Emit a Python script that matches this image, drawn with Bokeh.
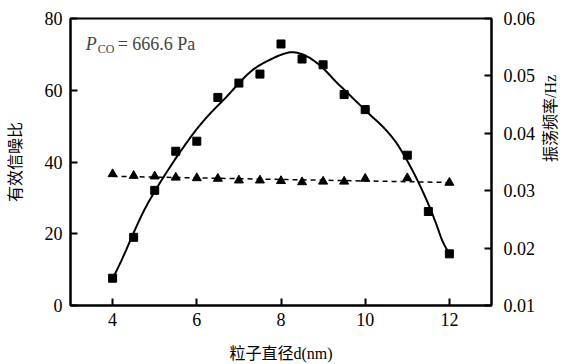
import numpy as np
from bokeh.plotting import figure
from bokeh.models import Range1d, LinearAxis, Label, FixedTicker
from bokeh.embed import file_html
from bokeh.resources import INLINE

# Effective signal-to-noise ratio vs particle diameter (left axis)
diameter_nm = [4, 4.5, 5, 5.5, 6, 6.5, 7, 7.5, 8, 8.5, 9, 9.5, 10, 11, 11.5, 12]
snr = [7.6, 19.0, 32.1, 43.0, 45.8, 58.0, 62.0, 64.5, 72.9, 68.7, 67.1, 58.8, 54.6, 41.9, 26.2, 14.4]

# Oscillation frequency vs particle diameter (right axis, Hz)
freq_diameter_nm = [4, 4.5, 5, 5.5, 6, 6.5, 7, 7.5, 8, 8.5, 9, 9.5, 10, 11, 12]
freq_hz = [0.0329, 0.0326, 0.0325, 0.0323, 0.0322, 0.0321, 0.0318, 0.0318,
           0.0317, 0.0315, 0.0316, 0.0316, 0.0321, 0.0322, 0.0314]

x_ticks = [4, 6, 8, 10, 12]
left_ticks = [0, 20, 40, 60, 80]
right_ticks = [0.01, 0.02, 0.03, 0.04, 0.05, 0.06]

SERIF = "Liberation Serif"
MIXED = "Liberation Serif, Noto Sans CJK SC"


def loess(x, y, grid, span=1.9, degree=2):
    """Local weighted polynomial smoothing with a tricube kernel."""
    x = np.asarray(x, float)
    y = np.asarray(y, float)
    out = []
    for g in grid:
        d = np.abs(x - g) / span
        w = np.clip(1 - d ** 3, 0, None) ** 3
        coef = np.polyfit(x - g, y, degree, w=np.sqrt(w))
        out.append(coef[-1])
    return np.array(out)


grid = np.linspace(min(diameter_nm), max(diameter_nm), 200)
snr_smooth = loess(diameter_nm, snr, grid)

# straight trend line through the frequency points
slope, icpt = np.polyfit(freq_diameter_nm, freq_hz, 1)
trend_x = np.array([min(freq_diameter_nm), max(freq_diameter_nm)])
trend_y = slope * trend_x + icpt

p = figure(frame_width=421, frame_height=287,
           min_border_left=70, min_border_right=80,
           min_border_top=18, min_border_bottom=59,
           x_range=Range1d(3, 13), y_range=Range1d(0, 80),
           output_backend="svg", toolbar_location=None)
p.extra_y_ranges = {"freq": Range1d(0.01, 0.06)}

p.xgrid.visible = False
p.ygrid.visible = False
p.outline_line_color = "black"
p.outline_line_width = 2
p.background_fill_color = "white"
p.border_fill_color = "white"

right = LinearAxis(y_range_name="freq")
p.add_layout(right, "right")

p.xaxis.ticker = FixedTicker(ticks=x_ticks)
p.yaxis[0].ticker = FixedTicker(ticks=left_ticks)
right.ticker = FixedTicker(ticks=right_ticks)
right.major_label_overrides = {t: f"{t:.2f}" for t in right_ticks}

for ax in [p.xaxis[0], p.yaxis[0], right]:
    ax.major_tick_in = 7
    ax.major_tick_out = 0
    ax.minor_tick_line_color = None
    ax.axis_line_width = 2
    ax.axis_line_color = "black"
    ax.major_tick_line_width = 2
    ax.major_tick_line_color = "black"
    ax.major_label_text_font = SERIF
    ax.major_label_text_font_size = "18px"
    ax.major_label_text_color = "black"
    ax.axis_label_text_font_style = "normal"
    ax.axis_label_text_color = "black"
    ax.axis_label_text_font = MIXED
    ax.axis_label_text_font_size = "16px"

p.yaxis[0].major_label_standoff = 8
p.yaxis[0].axis_label = "有效信噪比"
p.yaxis[0].axis_label_standoff = 18
right.major_label_standoff = 12
right.axis_label = "振荡频率/Hz"
right.axis_label_standoff = 12
if "axis_label_orientation" in right.properties():
    right.axis_label_orientation = np.pi / 2
p.xaxis[0].major_label_standoff = 7
p.xaxis[0].axis_label = "粒子直径d(nm)"
p.xaxis[0].axis_label_standoff = 16

# signal-to-noise: smooth curve and square markers
p.line(grid, snr_smooth, line_color="black", line_width=2)
p.scatter(diameter_nm, snr, marker="square", size=8, color="black")

# frequency: dashed trend line and triangle markers
p.line(trend_x, trend_y, y_range_name="freq", line_color="black",
       line_width=1.5, line_dash="5 4")
p.scatter(freq_diameter_nm, freq_hz, y_range_name="freq", marker="triangle",
          size=9, color="black")

# pressure annotation  P_CO = 666.6 Pa
p.add_layout(Label(x=3.36, y=73, text="P", text_font=SERIF, text_font_size="18px",
                   text_font_style="italic", text_baseline="alphabetic"))
p.add_layout(Label(x=3.36, y=73, x_offset=12, y_offset=-5, text="CO", text_font=SERIF,
                   text_font_size="12px", text_baseline="alphabetic"))
p.add_layout(Label(x=3.36, y=73, x_offset=32, text="= 666.6 Pa", text_font=SERIF,
                   text_font_size="18px", text_baseline="alphabetic"))

open("out.html", "w").write(file_html(p, INLINE))
